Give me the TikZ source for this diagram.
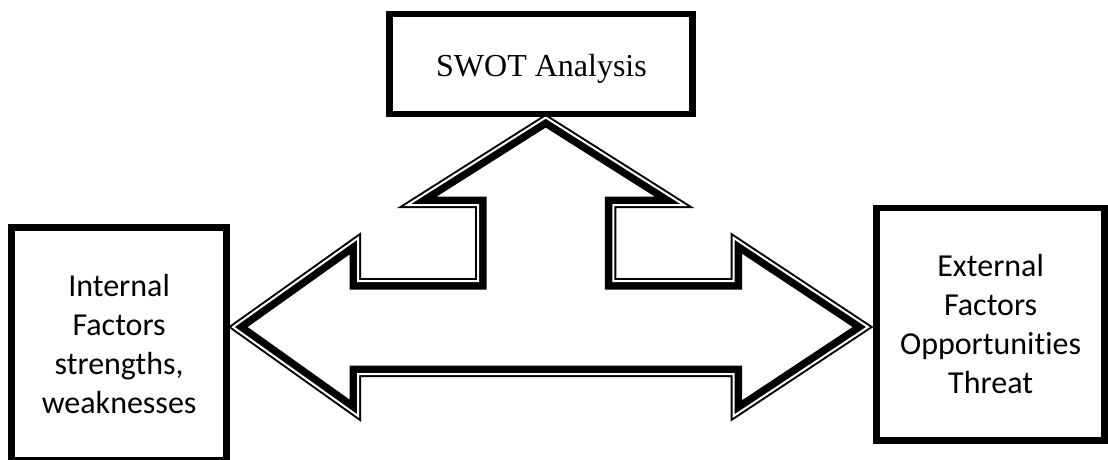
\documentclass[tikz,border=0pt]{standalone}
\usepackage{fontspec}
\setmainfont{Liberation Serif}
\newfontfamily\calibrifont[Ligatures=NoCommon]{Carlito}
\tikzset{
  framebox/.style={draw=black, line width=6.6pt, fill=white, inner sep=0pt, align=center},
  sidetext/.style={font=\calibrifont\fontsize{32}{39}\selectfont},
  thinpart/.style={draw=black, line width=6pt, line join=miter},
  thickpart/.style={draw=black, line width=17pt, line join=miter},
  gappart/.style={draw=white, line width=2pt, line join=miter}
}
\def\arrowpath{(233,327) -- (358,238) -- (358,281) -- (478,281) -- (478,205) -- (407.5,205) -- (545.7,117.5) -- (683.9,205) -- (613.4,205) -- (613.4,281) -- (733.7,281) -- (733.7,238) -- (868,327) -- (733.7,416) -- (733.7,374) -- (358,374) -- (358,416) -- cycle}
\begin{document}
\begin{tikzpicture}[x=1pt,y=-1pt]
\useasboundingbox[fill=white] (0,0) rectangle (1108,459);
% compound (thin-thick) outline of the combined arrow shape
\draw[thinpart] \arrowpath;
\begin{scope}
  \clip \arrowpath;
  \draw[thickpart] \arrowpath;
\end{scope}
\draw[gappart] \arrowpath;
% boxes
\node[framebox, minimum width=303.4pt, minimum height=100pt] (swot) at (541,64) {};
\node[font=\fontsize{32}{38}\selectfont, anchor=base, inner sep=0pt] (swottext) at (541.5,76) {SWOT Analysis};
\node[framebox, sidetext, minimum width=214.8pt, minimum height=232.8pt] (internal) at (119.1,343.6)
  {Internal\\Factors\\strengths,\\weaknesses};
\node[framebox, sidetext, minimum width=227.8pt, minimum height=232.7pt] (external) at (990.6,324.2)
  {External\\Factors\\Opportunities\\Threat};
\end{tikzpicture}
\end{document}
